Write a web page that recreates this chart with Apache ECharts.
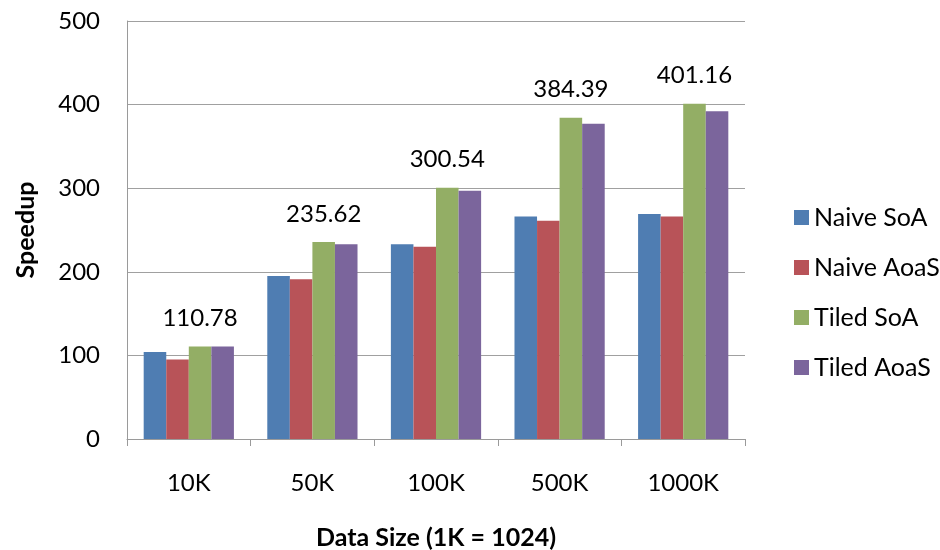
<!DOCTYPE html>
<html>
<head>
<meta charset="utf-8">
<title>Speedup</title>
<script src="https://cdn.jsdelivr.net/npm/echarts@6/dist/echarts.min.js"></script>
<style>
  html, body { margin: 0; padding: 0; background: #fff; }
  #main { width: 940px; height: 550px; }
</style>
</head>
<body>
<div id="main"></div>
<script>
// data
const categories = ["10K", "50K", "100K", "500K", "1000K"];
const seriesNames = ["Naive SoA", "Naive AoaS", "Tiled SoA", "Tiled AoaS"];
const naiveSoA = [104, 195, 233, 266, 269];
const naiveAoaS = [95, 191, 230, 261, 266];
const tiledSoA = [110.78, 235.62, 300.54, 384.39, 401.16];
const tiledAoaS = [110.5, 233, 297, 377, 392];
const colors = ["#4F7DB2", "#B85358", "#93AE65", "#7B659C"];

const font = "Lato, 'Open Sans', sans-serif";

const chart = echarts.init(document.getElementById("main"));

// only the green series carries value labels
const makeSeries = (name, data, color, showLabel) => ({
  name: name,
  type: "bar",
  data: data,
  barGap: "0%",
  barCategoryGap: "27%",
  itemStyle: { color: color },
  label: {
    show: showLabel,
    position: "top",
    distance: 16,
    color: "#000",
    fontFamily: font,
    fontSize: 24,
    formatter: (p) => p.value.toFixed(2),
  },
});

const option = {
  animation: false,
  grid: { left: 127, right: 195, top: 21, bottom: 111, outerBoundsMode: "none" },
  legend: {
    orient: "vertical",
    left: 789,
    top: 200,
    itemWidth: 15,
    itemHeight: 15,
    itemGap: 25,
    icon: "rect",
    textStyle: { fontFamily: font, fontSize: 25, color: "#000" },
    data: seriesNames,
  },
  xAxis: {
    type: "category",
    data: categories,
    name: "Data Size (1K = 1024)",
    nameLocation: "middle",
    nameGap: 86,
    nameTextStyle: { fontFamily: font, fontSize: 25, fontWeight: "bold", color: "#000" },
    axisLine: { lineStyle: { color: "#9A9A9A", width: 1 } },
    axisTick: { show: true, length: 7, lineStyle: { color: "#9A9A9A" } },
    axisLabel: { margin: 32, fontFamily: font, fontSize: 24, color: "#000" },
  },
  yAxis: {
    type: "value",
    min: 0,
    max: 500,
    interval: 100,
    name: "Speedup",
    nameLocation: "middle",
    nameGap: 89,
    nameTextStyle: { fontFamily: font, fontSize: 25, fontWeight: "bold", color: "#000" },
    axisLine: { show: true, lineStyle: { color: "#9A9A9A", width: 1 } },
    axisTick: { show: false },
    splitLine: { lineStyle: { color: "#A0A0A0", width: 1 } },
    axisLabel: { margin: 27, fontFamily: font, fontSize: 24, color: "#000" },
  },
  series: [
    makeSeries(seriesNames[0], naiveSoA, colors[0], false),
    makeSeries(seriesNames[1], naiveAoaS, colors[1], false),
    makeSeries(seriesNames[2], tiledSoA, colors[2], true),
    makeSeries(seriesNames[3], tiledAoaS, colors[3], false),
  ],
};

chart.setOption(option);
</script>
</body>
</html>
